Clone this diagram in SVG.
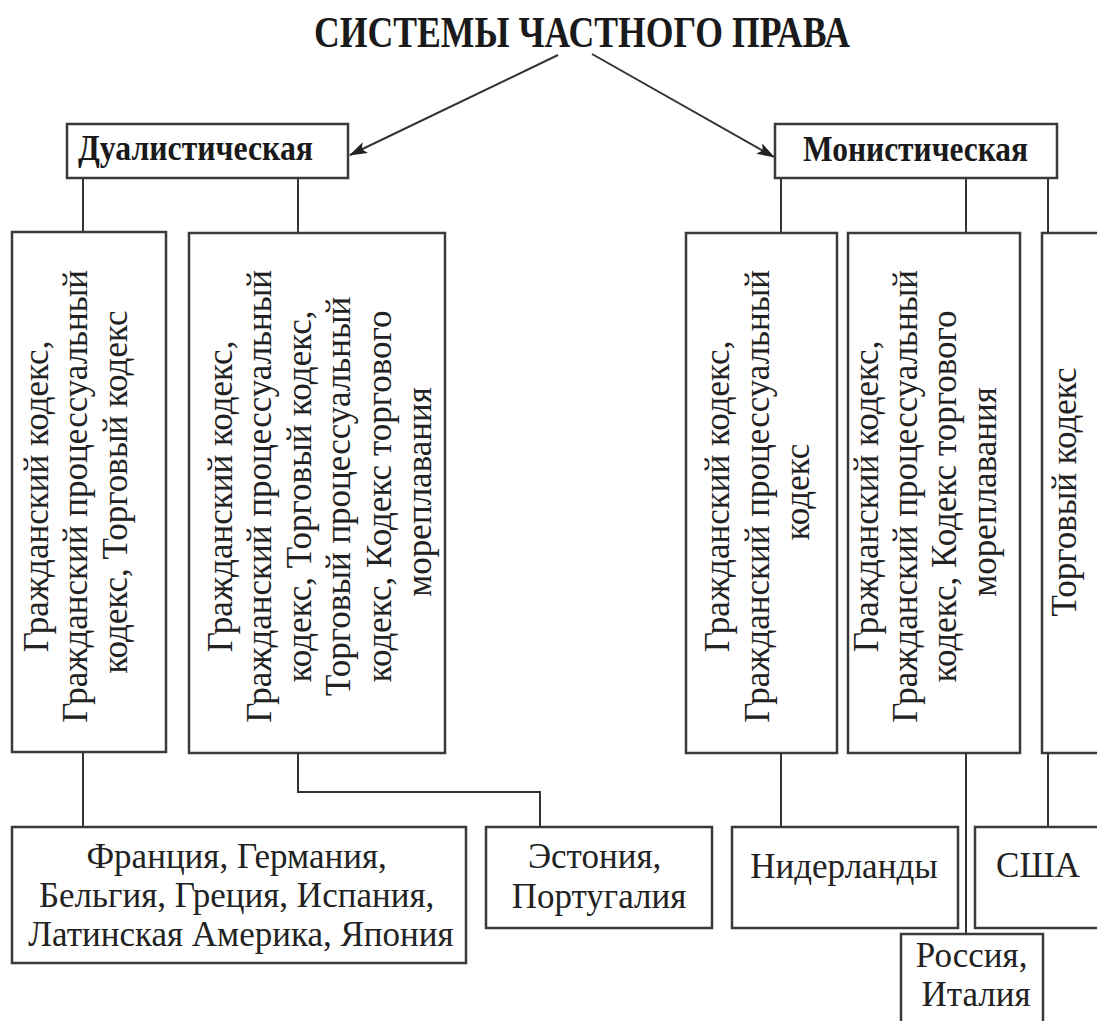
<svg xmlns="http://www.w3.org/2000/svg" width="1097" height="1021" viewBox="0 0 1097 1021" font-family="'Liberation Serif', 'Times New Roman', 'DejaVu Serif', serif">
<defs>
<style>
.bg{fill:#fff}
.box{fill:#fff;stroke:#3a3a3a;stroke-width:2.5}
.ln{fill:none;stroke:#333;stroke-width:2}
.t{font-size:35px;fill:#222}
.hb{font-size:36px;font-weight:bold;fill:#1a1a1a}
.title{font-size:44px;font-weight:bold;fill:#1a1a1a}
</style>
<marker id="ah" markerWidth="18" markerHeight="12" refX="17" refY="6" orient="auto" markerUnits="userSpaceOnUse">
<path d="M0,0 L18,6 L0,12 L4,6 Z" fill="#222"/>
</marker>
</defs>
<rect class="bg" x="0" y="0" width="1097" height="1021"/>

<g id="title">
<text class="title" font-family="Liberation Serif, serif" x="314" y="47" textLength="536" lengthAdjust="spacingAndGlyphs">СИСТЕМЫ ЧАСТНОГО ПРАВА</text>
</g>

<g id="connectors">
<line class="ln" x1="558" y1="55" x2="350" y2="155" marker-end="url(#ah)"/>
<line class="ln" x1="592" y1="54" x2="774" y2="157" marker-end="url(#ah)"/>
<line class="ln" x1="83" y1="178" x2="83" y2="232"/>
<line class="ln" x1="298" y1="178" x2="298" y2="233"/>
<line class="ln" x1="781" y1="178" x2="781" y2="233"/>
<line class="ln" x1="966" y1="178" x2="966" y2="233"/>
<line class="ln" x1="1048" y1="178" x2="1048" y2="233"/>
<line class="ln" x1="83" y1="752" x2="83" y2="827"/>
<polyline class="ln" points="298,753 298,792 540,792 540,827"/>
<line class="ln" x1="781" y1="753" x2="781" y2="827"/>
<line class="ln" x1="966" y1="753" x2="966" y2="934"/>
<line class="ln" x1="1048" y1="753" x2="1048" y2="827"/>
</g>

<g id="dualistic">
<rect class="box" x="67" y="124" width="281" height="54"/>
<text class="hb" x="78" y="160" textLength="235" lengthAdjust="spacingAndGlyphs">Дуалистическая</text>
</g>

<g id="monistic">
<rect class="box" x="775" y="124" width="282" height="54"/>
<text class="hb" x="803" y="161" textLength="225" lengthAdjust="spacingAndGlyphs">Монистическая</text>
</g>

<g id="codes-a">
<rect class="box" x="12" y="232" width="154" height="520"/>
<text class="t" transform="translate(0,492) rotate(-90)" text-anchor="middle">
<tspan x="0" y="48">Гражданский  кодекс,</tspan>
<tspan x="0" y="87">Гражданский  процессуальный</tspan>
<tspan x="0" y="127">кодекс,  Торговый  кодекс</tspan>
</text>
</g>

<g id="codes-b">
<rect class="box" x="189" y="233" width="256" height="520"/>
<text class="t" transform="translate(0,492) rotate(-90)" text-anchor="middle">
<tspan x="0" y="232">Гражданский  кодекс,</tspan>
<tspan x="0" y="271">Гражданский  процессуальный</tspan>
<tspan x="0" y="311">кодекс,  Торговый  кодекс,</tspan>
<tspan x="0" y="350">Торговый  процессуальный</tspan>
<tspan x="0" y="391">кодекс,  Кодекс  торгового</tspan>
<tspan x="0" y="431">мореплавания</tspan>
</text>
</g>

<g id="codes-c">
<rect class="box" x="686" y="233" width="151" height="520"/>
<text class="t" transform="translate(0,492) rotate(-90)" text-anchor="middle">
<tspan x="0" y="729">Гражданский  кодекс,</tspan>
<tspan x="0" y="769">Гражданский  процессуальный</tspan>
<tspan x="0" y="809">кодекс</tspan>
</text>
</g>

<g id="codes-d">
<rect class="box" x="848" y="233" width="172" height="520"/>
<text class="t" transform="translate(0,492) rotate(-90)" text-anchor="middle">
<tspan x="0" y="878">Гражданский  кодекс,</tspan>
<tspan x="0" y="917">Гражданский  процессуальный</tspan>
<tspan x="0" y="956">кодекс,  Кодекс  торгового</tspan>
<tspan x="0" y="996">мореплавания</tspan>
</text>
</g>

<g id="codes-e">
<rect class="box" x="1042" y="233" width="70" height="520"/>
<text class="t" transform="translate(0,492) rotate(-90)" text-anchor="middle">
<tspan x="0" y="1076">Торговый  кодекс</tspan>
</text>
</g>

<g id="france">
<rect class="box" x="12" y="827" width="454" height="136"/>
<text class="t" font-size="36" text-anchor="middle">
<tspan x="241" y="868">Франция, Германия,</tspan>
<tspan x="241" y="907">Бельгия, Греция, Испания,</tspan>
<tspan x="241" y="946">Латинская Америка, Япония</tspan>
</text>
</g>

<g id="estonia">
<rect class="box" x="486" y="827" width="226" height="101"/>
<text class="t" font-size="36" text-anchor="middle">
<tspan x="599" y="868">Эстония,</tspan>
<tspan x="599" y="908">Португалия</tspan>
</text>
</g>

<g id="netherlands">
<rect class="box" x="732" y="827" width="226" height="101"/>
<text class="t" font-size="36" x="844" y="878" text-anchor="middle">Нидерланды</text>
</g>

<g id="usa">
<rect class="box" x="975" y="827" width="140" height="101"/>
<text class="t" font-size="36" x="1038" y="877" text-anchor="middle">США</text>
</g>

<g id="russia">
<rect class="box" x="901" y="934" width="142" height="110"/>
<text class="t" font-size="36" text-anchor="middle">
<tspan x="976" y="967">Россия,</tspan>
<tspan x="976" y="1006">Италия</tspan>
</text>
</g>
</svg>
